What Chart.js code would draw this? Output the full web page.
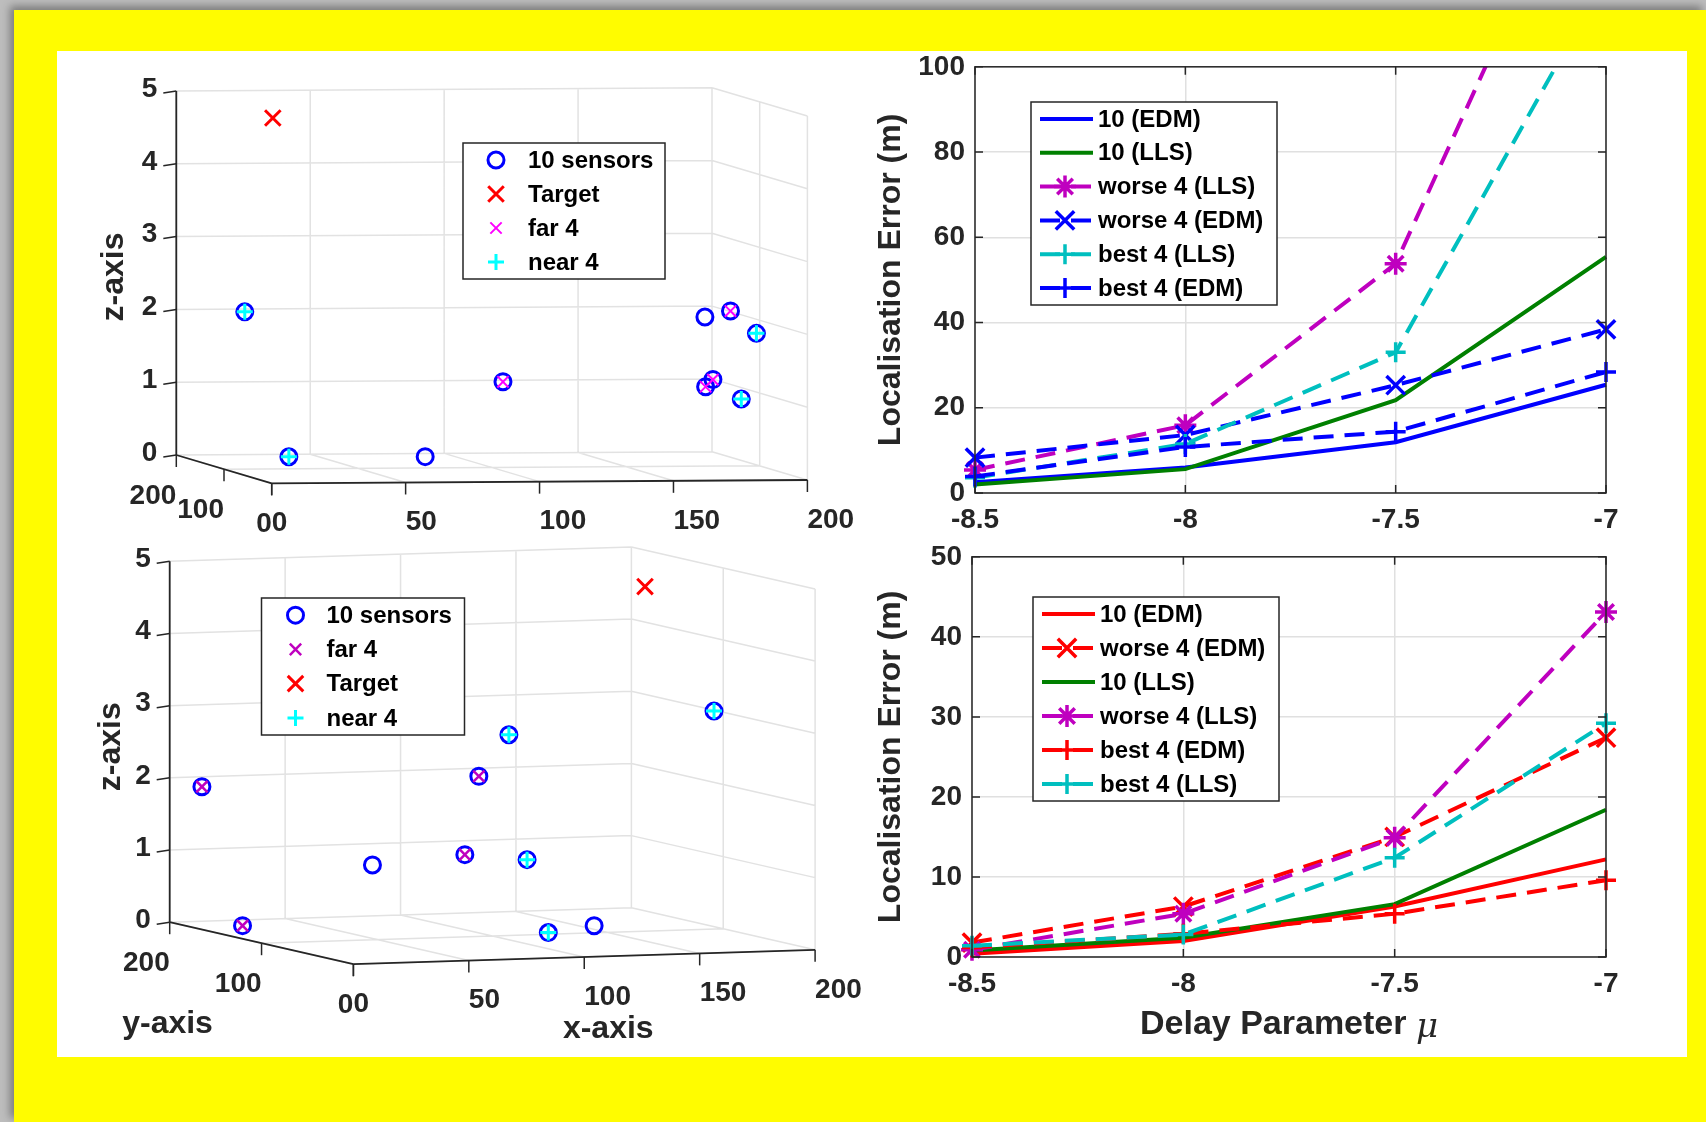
<!DOCTYPE html>
<html>
<head>
<meta charset="utf-8">
<title>Sensores e erro de localização</title>
<script src="https://cdn.jsdelivr.net/npm/chart.js@4.4.1/dist/chart.umd.min.js"></script>
<style>
  html, body { margin: 0; padding: 0; }
  body { width: 1706px; height: 1122px; position: relative; overflow: hidden; background: #bdbdbd; }
  #fundo { position: absolute; left: 14px; top: 10px; right: 0; bottom: 0; background: #fffc00; box-shadow: -4px -4px 8px rgba(0,0,0,0.35); }
  #painel { position: absolute; left: 57px; top: 51px; width: 1630px; height: 1006px; background: #fff; }
  canvas { position: absolute; }
</style>
</head>
<body>
<div id="fundo"></div>
<div id="painel"></div>
<canvas id="cena1" width="840" height="500" style="left:57px;top:51px"></canvas>
<canvas id="cena2" width="840" height="517" style="left:57px;top:540px"></canvas>
<canvas id="grafico1" width="800" height="513" style="left:860px;top:40px"></canvas>
<canvas id="grafico2" width="800" height="530" style="left:860px;top:530px"></canvas>

<script>
// Limites e marcas dos eixos 3D
const limX = [0, 200];
const limY = [0, 200];
const limZ = [0, 5];
const ticksX = [0, 50, 100, 150, 200];
const ticksY = [0, 100, 200];
const ticksZ = [0, 1, 2, 3, 4, 5];

// Cenário de cima: 10 sensores e alvo
const sensoresAX = [22, 39, 89, 120, 184, 198, 197, 188, 195, 186];
const sensoresAY = [180, 183, 178, 189, 125, 150, 90, 146, 170, 60];
const sensoresAZ = [2.0, 0.0, 0.0, 1.0, 2.0, 2.03, 1.84, 1.0, 1.05, 1.0];
const longeA = [3, 5, 7, 8];   // far 4
const pertoA = [0, 1, 6, 9];   // near 4
const alvoA = [20, 110, 4.8];

// Cenário de baixo
const sensoresBX = [6, 22, 56, 100, 118, 135, 119, 127, 156, 196];
const sensoresBY = [180, 176, 120, 130, 160, 170, 110, 107, 130, 100];
const sensoresBZ = [1.93, 0.0, 0.97, 1.04, 2.02, 2.55, 1.01, 0.0, 0.0, 3.02];
const longeB = [0, 1, 3, 4];
const pertoB = [5, 6, 7, 9];
const alvoB = [186, 150, 4.61];

// Erro de localização x parâmetro de atraso
const mu = [-8.5, -8, -7.5, -7];
const ticksMu = [-8.5, -8, -7.5, -7];

const edm10A = [2.5, 6.0, 11.9, 25.4];
const lls10A = [2.0, 5.6, 21.8, 55.4];
const pior4llsA = [5.4, 15.9, 53.8, 162];
const pior4edmA = [8.3, 13.6, 25.3, 38.4];
const melhor4llsA = [3.6, 11.5, 33.0, 121];
const melhor4edmA = [3.9, 10.8, 14.4, 28.4];

const edm10B = [0.4, 2.0, 6.3, 12.2];
const pior4edmB = [1.8, 6.3, 15.0, 27.4];
const lls10B = [0.8, 2.4, 6.6, 18.4];
const pior4llsB = [0.9, 5.4, 14.9, 43.1];
const melhor4edmB = [1.2, 2.9, 5.4, 9.6];
const melhor4llsB = [1.4, 2.8, 12.4, 29.2];

const FONTE = '"Liberation Sans", Arial, Helvetica, sans-serif';
const CINZA = '#262626';
Chart.defaults.font.family = FONTE;
Chart.defaults.color = CINZA;

// Vistas (em pixels do canvas): origem = (0,0,0), depois o deslocamento de cada eixo inteiro
const vistaA = { origem: [214.7, 432.3], eixoX: [535.7, -3.3], eixoY: [-95.4, -28.3], eixoZ: [0, -364] };
const vistaB = { origem: [296.4, 424.2], eixoX: [461.7, -14.4], eixoY: [-183.7, -42], eixoZ: [0, -360.9] };

function projetar(v, x, y, z) {
  const fx = (x - limX[0]) / (limX[1] - limX[0]);
  const fy = (y - limY[0]) / (limY[1] - limY[0]);
  const fz = (z - limZ[0]) / (limZ[1] - limZ[0]);
  return {
    x: v.origem[0] + fx * v.eixoX[0] + fy * v.eixoY[0] + fz * v.eixoZ[0],
    y: v.origem[1] + fx * v.eixoX[1] + fy * v.eixoY[1] + fz * v.eixoZ[1]
  };
}

function segmentos3d(v, lista) {
  const dados = [];
  lista.forEach(([a, b]) => {
    dados.push(projetar(v, a[0], a[1], a[2]), projetar(v, b[0], b[1], b[2]), { x: NaN, y: NaN });
  });
  return dados;
}

// grade nas paredes do fundo, do lado direito e no chão
function linhasGrade() {
  const [x0, x1] = limX, [y0, y1] = limY, [z0, z1] = limZ;
  const s = [];
  ticksX.forEach(x => { s.push([[x, y1, z0], [x, y1, z1]]); s.push([[x, y0, z0], [x, y1, z0]]); });
  ticksZ.forEach(z => { s.push([[x0, y1, z], [x1, y1, z]]); s.push([[x1, y0, z], [x1, y1, z]]); });
  ticksY.forEach(y => { s.push([[x1, y, z0], [x1, y, z1]]); s.push([[x0, y, z0], [x1, y, z0]]); });
  return s;
}

function linhasEixos() {
  const [x0, x1] = limX, [y0, y1] = limY, [z0, z1] = limZ;
  return [[[x0, y1, z0], [x0, y1, z1]], [[x0, y0, z0], [x1, y0, z0]], [[x0, y0, z0], [x0, y1, z0]]];
}

function pontos(v, xs, ys, zs, idx) {
  const lista = idx || xs.map((_, i) => i);
  return lista.map(i => projetar(v, xs[i], ys[i], zs[i]));
}

// marcadores no estilo do Chart.js (para a legenda)
function desenharMarca(ctx, estilo, r, x, y) {
  const d = r * Math.SQRT1_2;
  ctx.beginPath();
  if (estilo === 'circle') {
    ctx.arc(x, y, r, 0, Math.PI * 2);
  }
  if (estilo === 'cross' || estilo === 'star') {
    ctx.moveTo(x - r, y); ctx.lineTo(x + r, y);
    ctx.moveTo(x, y - r); ctx.lineTo(x, y + r);
  }
  if (estilo === 'crossRot' || estilo === 'star') {
    ctx.moveTo(x - d, y - d); ctx.lineTo(x + d, y + d);
    ctx.moveTo(x - d, y + d); ctx.lineTo(x + d, y - d);
  }
  ctx.stroke();
}

const legendaCaixa = {
  id: 'legendaCaixa',
  afterDraw(chart, args, o) {
    const ctx = chart.ctx;
    const itens = chart.data.datasets.filter(d => d.label);
    ctx.save();
    ctx.fillStyle = '#fff';
    ctx.fillRect(o.x, o.y, o.w, o.h);
    ctx.strokeStyle = CINZA;
    ctx.lineWidth = 1.5;
    ctx.strokeRect(o.x, o.y, o.w, o.h);
    const passo = o.h / itens.length;
    itens.forEach((d, i) => {
      const cy = o.y + passo * (i + 0.5);
      if (d.showLine !== false) {
        ctx.strokeStyle = d.borderColor;
        ctx.lineWidth = d.borderWidth;
        ctx.setLineDash(d.borderDash || []);
        ctx.beginPath();
        ctx.moveTo(o.x + o.linha0, cy);
        ctx.lineTo(o.x + o.linha1, cy);
        ctx.stroke();
        ctx.setLineDash([]);
      }
      if (d.pointRadius > 0) {
        ctx.strokeStyle = d.pointBorderColor || d.borderColor;
        ctx.lineWidth = d.pointBorderWidth;
        desenharMarca(ctx, d.pointStyle, d.pointRadius, o.x + o.marca, cy);
      }
      ctx.fillStyle = '#000';
      ctx.font = 'bold ' + o.tamanho + 'px ' + FONTE;
      ctx.textAlign = 'left';
      ctx.textBaseline = 'middle';
      ctx.fillText(d.label, o.x + o.texto, cy + 1);
    });
    ctx.restore();
  }
};

// rótulos, marcas e títulos dos eixos 3D
const rotulos3d = {
  id: 'rotulos3d',
  afterDatasetsDraw(chart, args, o) {
    const { ctx, scales } = chart;
    const v = o.vista;
    const px = p => ({ x: scales.x.getPixelForValue(p.x), y: scales.y.getPixelForValue(p.y) });
    const linha = (a, b, c, d) => { ctx.beginPath(); ctx.moveTo(a, b); ctx.lineTo(c, d); ctx.stroke(); };
    ctx.save();
    ctx.strokeStyle = CINZA;
    ctx.lineWidth = 1.5;
    ctx.fillStyle = CINZA;
    ctx.font = 'bold 28px ' + FONTE;
    ctx.textBaseline = 'middle';

    ticksZ.forEach(z => {
      const p = px(projetar(v, limX[0], limY[1], z));
      linha(p.x, p.y, p.x - 13, p.y + 2);
      ctx.textAlign = 'right';
      ctx.fillText(String(z), p.x - 19, p.y - 2);
    });
    ticksX.forEach(x => {
      const p = px(projetar(v, x, limY[0], limZ[0]));
      linha(p.x, p.y, p.x, p.y + 12);
      ctx.textAlign = 'left';
      ctx.fillText(String(x), p.x, p.y + 40);
    });
    ticksY.forEach(y => {
      const p = px(projetar(v, limX[0], y, limZ[0]));
      linha(p.x, p.y, p.x, p.y + 12);
      ctx.textAlign = 'right';
      ctx.fillText(String(y), p.x, p.y + 41);
    });

    ctx.font = 'bold 32px ' + FONTE;
    ctx.textAlign = 'center';
    o.titulos.forEach(t => {
      const p = px(projetar(v, t.ref[0], t.ref[1], t.ref[2]));
      ctx.save();
      ctx.translate(p.x + t.dx, p.y + t.dy);
      if (t.girar) ctx.rotate(-Math.PI / 2);
      ctx.fillText(t.texto, 0, 0);
      ctx.restore();
    });
    ctx.restore();
  }
};

function criarCena(id, vista, conjuntos, legenda, titulos) {
  const canvas = document.getElementById(id);
  const datasets = conjuntos.concat([
    { data: segmentos3d(vista, linhasGrade()), borderColor: '#e2e2e2', borderWidth: 1.5, pointRadius: 0, order: 20 },
    { data: segmentos3d(vista, linhasEixos()), borderColor: CINZA, borderWidth: 1.8, pointRadius: 0, order: 19 }
  ]);
  return new Chart(canvas, {
    type: 'line',
    data: { datasets },
    options: {
      responsive: false,
      animation: false,
      events: [],
      layout: { autoPadding: false, padding: 0 },
      scales: {
        x: { type: 'linear', display: false, min: 0, max: canvas.width },
        y: { type: 'linear', display: false, min: 0, max: canvas.height, reverse: true }
      },
      plugins: {
        legend: { display: false },
        tooltip: { enabled: false },
        rotulos3d: { vista, titulos },
        legendaCaixa: legenda
      }
    },
    plugins: [rotulos3d, legendaCaixa]
  });
}

function marcas(label, data, estilo, cor, raio, largura, ordem) {
  return {
    label, data, showLine: false, pointStyle: estilo, pointRadius: raio,
    pointBorderWidth: largura, pointBorderColor: cor, borderColor: cor,
    pointBackgroundColor: 'rgba(0,0,0,0)', order: ordem
  };
}

// Cena de cima
criarCena('cena1', vistaA, [
  marcas('10 sensors', pontos(vistaA, sensoresAX, sensoresAY, sensoresAZ), 'circle', '#0000ff', 8, 3, 4),
  marcas('Target', [projetar(vistaA, alvoA[0], alvoA[1], alvoA[2])], 'crossRot', '#ff0000', 11, 3, 3),
  marcas('far 4', pontos(vistaA, sensoresAX, sensoresAY, sensoresAZ, longeA), 'crossRot', '#ff00ff', 8, 2, 2),
  marcas('near 4', pontos(vistaA, sensoresAX, sensoresAY, sensoresAZ, pertoA), 'cross', '#00ffff', 8, 3, 1)
], { x: 406, y: 92, w: 202, h: 136, marca: 33, texto: 65, linha0: 0, linha1: 0, tamanho: 24 },
[{ texto: 'z-axis', ref: [0, 200, 2.5], dx: -62, dy: 4, girar: true }]);

// Cena de baixo
criarCena('cena2', vistaB, [
  marcas('10 sensors', pontos(vistaB, sensoresBX, sensoresBY, sensoresBZ), 'circle', '#0000ff', 8, 3, 4),
  marcas('far 4', pontos(vistaB, sensoresBX, sensoresBY, sensoresBZ, longeB), 'crossRot', '#bf00bf', 8, 2.5, 2),
  marcas('Target', [projetar(vistaB, alvoB[0], alvoB[1], alvoB[2])], 'crossRot', '#ff0000', 11, 3, 3),
  marcas('near 4', pontos(vistaB, sensoresBX, sensoresBY, sensoresBZ, pertoB), 'cross', '#00ffff', 8, 3, 1)
], { x: 204.5, y: 58, w: 203, h: 137, marca: 34, texto: 65, linha0: 0, linha1: 0, tamanho: 24 },
[
  { texto: 'z-axis', ref: [0, 200, 2.5], dx: -59, dy: 5, girar: true },
  { texto: 'y-axis', ref: [0, 100, 0], dx: -94, dy: 81, girar: false },
  { texto: 'x-axis', ref: [100, 0, 0], dx: 24, dy: 72, girar: false }
]);

// caixa completa com marcas para dentro, como no MATLAB
const caixaEixos = {
  id: 'caixaEixos',
  afterDatasetsDraw(chart) {
    const { ctx, chartArea: a, scales } = chart;
    const t = 8;
    ctx.save();
    ctx.strokeStyle = CINZA;
    ctx.lineWidth = 1.5;
    ctx.strokeRect(a.left, a.top, a.right - a.left, a.bottom - a.top);
    ctx.beginPath();
    scales.x.ticks.forEach(tk => {
      const p = scales.x.getPixelForValue(tk.value);
      ctx.moveTo(p, a.bottom); ctx.lineTo(p, a.bottom - t);
      ctx.moveTo(p, a.top); ctx.lineTo(p, a.top + t);
    });
    scales.y.ticks.forEach(tk => {
      const p = scales.y.getPixelForValue(tk.value);
      ctx.moveTo(a.left, p); ctx.lineTo(a.left + t, p);
      ctx.moveTo(a.right, p); ctx.lineTo(a.right - t, p);
    });
    ctx.stroke();
    ctx.restore();
  }
};

// título do eixo x com o mu em itálico
const tituloMu = {
  id: 'tituloMu',
  afterDraw(chart, args, o) {
    if (!o.texto) return;
    const { ctx, chartArea: a } = chart;
    const f1 = 'bold ' + o.tamanho + 'px ' + FONTE;
    const f2 = 'italic ' + o.tamanho + 'px "DejaVu Serif", "Liberation Serif", serif';
    ctx.save();
    ctx.font = f1;
    const w1 = ctx.measureText(o.texto + ' ').width;
    ctx.font = f2;
    const w2 = ctx.measureText(o.simbolo).width;
    const x = (a.left + a.right) / 2 - (w1 + w2) / 2;
    const y = a.bottom + o.desloc;
    ctx.fillStyle = CINZA;
    ctx.textBaseline = 'middle';
    ctx.textAlign = 'left';
    ctx.font = f1;
    ctx.fillText(o.texto + ' ', x, y);
    ctx.font = f2;
    ctx.fillText(o.simbolo, x + w1, y + 3);
    ctx.restore();
  }
};

function serie(label, valores, cor, tracejado, estilo, raio) {
  return {
    label,
    data: mu.map((m, i) => ({ x: m, y: valores[i] })),
    borderColor: cor,
    borderWidth: 4,
    borderDash: tracejado ? [20, 11] : [],
    pointStyle: estilo || 'circle',
    pointRadius: estilo ? raio : 0,
    pointBorderWidth: 3.5,
    pointBorderColor: cor,
    pointBackgroundColor: 'rgba(0,0,0,0)',
    tension: 0,
    fill: false,
    clip: { left: 15, right: 15, top: 0, bottom: 15 }
  };
}

function criarGrafico(id, series, maxY, passoY, legenda, tituloX, larguraY, alturaX, topo) {
  series.forEach((s, i) => { s.order = series.length - i; });
  return new Chart(document.getElementById(id), {
    type: 'line',
    data: { datasets: series },
    options: {
      responsive: false,
      animation: false,
      events: [],
      layout: { padding: { top: topo, right: 54, left: 0, bottom: 0 } },
      scales: {
        x: {
          type: 'linear', min: mu[0], max: mu[mu.length - 1],
          afterBuildTicks: s => { s.ticks = ticksMu.map(v => ({ value: v })); },
          ticks: { padding: 10, maxRotation: 0, font: { size: 28, weight: 'bold' }, callback: v => String(v) },
          grid: { color: '#e0e0e0', lineWidth: 1.5, drawTicks: false },
          border: { display: false },
          afterFit: s => { s.height = alturaX; }
        },
        y: {
          min: 0, max: maxY,
          ticks: { stepSize: passoY, padding: 10, font: { size: 28, weight: 'bold' } },
          grid: { color: '#e0e0e0', lineWidth: 1.5, drawTicks: false },
          border: { display: false },
          title: { display: true, text: 'Localisation Error (m)', font: { size: 32, weight: 'bold' }, padding: { top: 12 } },
          afterFit: s => { s.width = larguraY; }
        }
      },
      plugins: {
        legend: { display: false },
        tooltip: { enabled: false },
        legendaCaixa: legenda,
        tituloMu: tituloX
      }
    },
    plugins: [caixaEixos, legendaCaixa, tituloMu]
  });
}

criarGrafico('grafico1', [
  serie('10 (EDM)', edm10A, '#0000ff', false),
  serie('10 (LLS)', lls10A, '#008000', false),
  serie('worse 4 (LLS)', pior4llsA, '#bf00bf', true, 'star', 11),
  serie('worse 4 (EDM)', pior4edmA, '#0000ff', true, 'crossRot', 13),
  serie('best 4 (LLS)', melhor4llsA, '#00bfbf', true, 'cross', 10),
  serie('best 4 (EDM)', melhor4edmA, '#0000ff', true, 'cross', 10)
], 100, 20, { x: 171, y: 62, w: 246, h: 203, marca: 34, texto: 67, linha0: 9, linha1: 62, tamanho: 24 },
{ texto: '' }, 115, 60, 22);

criarGrafico('grafico2', [
  serie('10 (EDM)', edm10B, '#ff0000', false),
  serie('worse 4 (EDM)', pior4edmB, '#ff0000', true, 'crossRot', 13),
  serie('10 (LLS)', lls10B, '#008000', false),
  serie('worse 4 (LLS)', pior4llsB, '#bf00bf', true, 'star', 11),
  serie('best 4 (EDM)', melhor4edmB, '#ff0000', true, 'cross', 10),
  serie('best 4 (LLS)', melhor4llsB, '#00bfbf', true, 'cross', 10)
], 50, 10, { x: 173, y: 67, w: 246, h: 204, marca: 34, texto: 67, linha0: 9, linha1: 62, tamanho: 24 },
{ texto: 'Delay Parameter', simbolo: 'μ', tamanho: 34, desloc: 68 }, 112, 103, 21);
</script>
</body>
</html>
